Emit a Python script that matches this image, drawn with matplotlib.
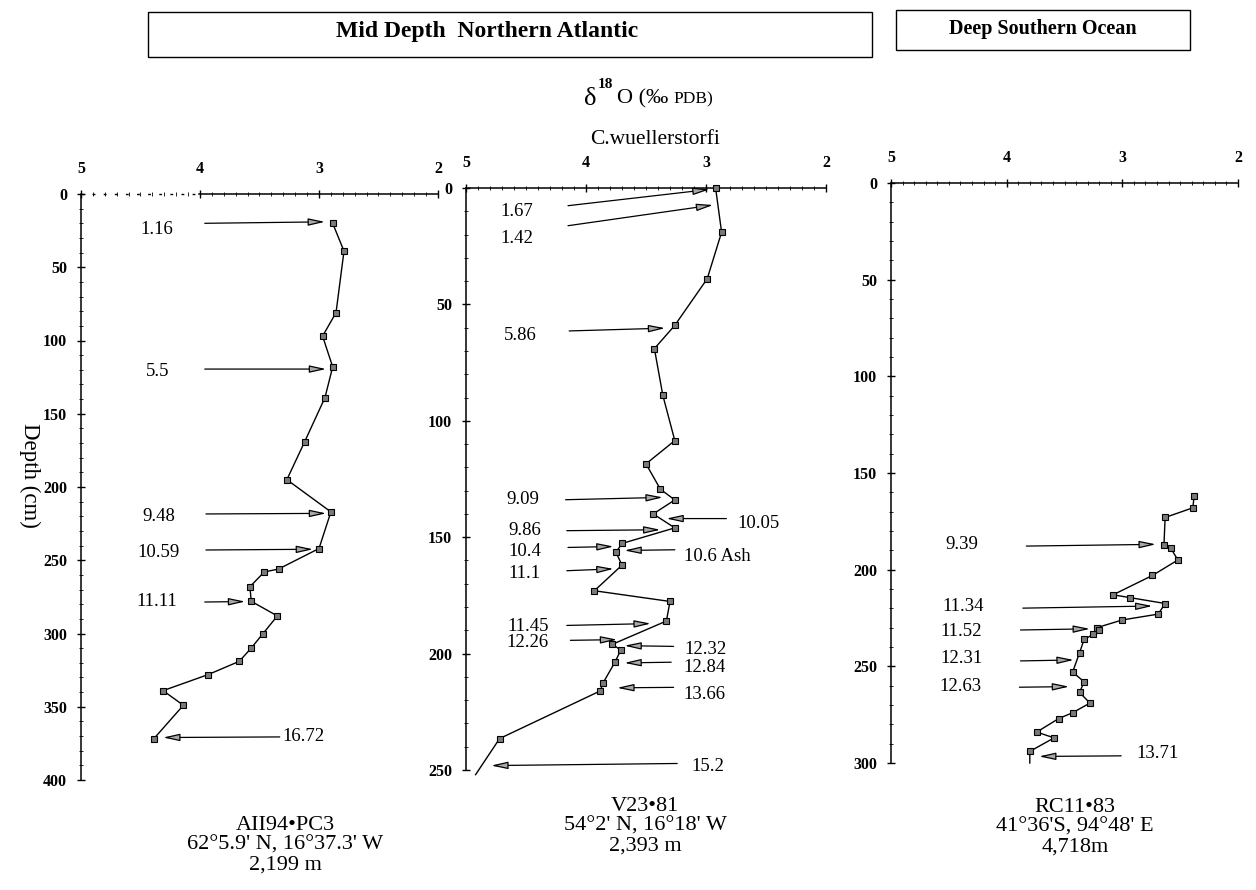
import matplotlib
matplotlib.use("Agg")
import matplotlib.pyplot as plt
from matplotlib.patches import Rectangle

plt.rcParams['font.family'] = ['Liberation Serif', 'DejaVu Serif']

# ---- data: d18O (per mil PDB) vs depth (cm) ----
# AII94-PC3
core1_d18o = [2.885, 2.79, 2.857, 2.97, 2.885, 2.95, 3.12, 3.27, 2.90, 3.00, 3.34,
              3.46, 3.58, 3.57, 3.35, 3.47, 3.57, 3.67, 3.93, 4.31, 4.14, 4.39]
core1_depth = [20, 39, 81, 97, 118, 139, 169, 195, 217, 242, 256,
               258, 268, 278, 288, 300, 310, 319, 328, 339, 349, 372]

# V23-81 (last entry: line runs past the axis bottom)
core2_d18o = [2.92, 2.87, 2.99, 3.26, 3.43, 3.36, 3.26, 3.50, 3.38, 3.26, 3.44, 3.26,
              3.70, 3.75, 3.70, 3.93, 3.30, 3.33, 3.78, 3.71, 3.76, 3.86, 3.88, 4.72, 4.92]
core2_depth = [0, 19, 39, 59, 69, 89, 108.5, 118.5, 129.4, 134, 140, 146,
               152.7, 156.5, 162, 173, 177.6, 186, 196, 198.5, 203.8, 212.8, 216, 236.5, 252]

# RC11-83 (last entry: line end without marker)
core3_d18o = [2.38, 2.39, 2.63, 2.64, 2.58, 2.52, 2.74, 3.08, 2.93, 2.63, 2.69, 3.00, 3.22,
              3.20, 3.25, 3.33, 3.37, 3.43, 3.33, 3.37, 3.28, 3.43, 3.55, 3.74, 3.59, 3.80, 3.80]
core3_depth = [162, 168, 173, 187, 189, 195, 203, 213, 214.5, 217.5, 223, 226, 230,
               231, 233.5, 236, 243, 253, 258, 263.5, 269, 274, 277, 284, 287, 294, 300]

# age labels (ka) with arrows: text, text x, text y, tail x, tail y, head x, head y
core1_notes = [
    ("1.16", 4.36, 24, 3.96, 20, 2.95, 19),
    ("5.5", 4.36, 121, 3.96, 119.5, 2.94, 119.5),
    ("9.48", 4.35, 220, 3.95, 218.4, 2.94, 218),
    ("10.59", 4.35, 245, 3.95, 243, 3.05, 242.5),
    ("11.11", 4.36, 278, 3.96, 278.5, 3.62, 278.2),
    ("16.72", 3.13, 370, 3.33, 370.6, 4.31, 371),
]
core2_notes = [
    ("1.67", 4.58, 10.2, 4.15, 7.6, 2.97, 0.6),
    ("1.42", 4.58, 21.6, 4.15, 16.2, 2.94, 7.3),
    ("5.86", 4.55, 63.4, 4.14, 61.4, 3.34, 60.2),
    ("9.09", 4.53, 133.9, 4.17, 133.9, 3.36, 132.9),
    ("9.86", 4.51, 147.2, 4.16, 147.2, 3.38, 146.8),
    ("10.4", 4.51, 156, 4.15, 154.4, 3.77, 154),
    ("11.1", 4.51, 165.4, 4.16, 164.4, 3.77, 163.6),
    ("11.45", 4.48, 188.3, 4.16, 187.9, 3.46, 187.1),
    ("12.26", 4.49, 195.4, 4.13, 194.3, 3.74, 194),
]
core2_notes_right = [
    ("10.05", 2.74, 144.2, 2.83, 142, 3.33, 142),
    ("10.6 Ash", 3.18, 158.4, 3.26, 155.4, 3.68, 155.7),
    ("12.32", 3.18, 198.3, 3.27, 196.9, 3.68, 196.6),
    ("12.84", 3.19, 206, 3.29, 203.7, 3.68, 204),
    ("13.66", 3.19, 217.6, 3.27, 214.5, 3.74, 214.7),
    ("15.2", 3.12, 248.5, 3.24, 247.2, 4.79, 248.1),
]
core3_notes = [
    ("9.39", 4.39, 187.2, 3.83, 187.8, 2.71, 186.9),
    ("11.34", 4.38, 219.1, 3.86, 219.9, 2.74, 218.8),
    ("11.52", 4.39, 232, 3.88, 231.2, 3.28, 230.6),
    ("12.31", 4.39, 245.8, 3.88, 247.2, 3.42, 246.7),
    ("12.63", 4.40, 260.5, 3.89, 260.8, 3.46, 260.5),
]
core3_notes_right = [
    ("13.71", 2.88, 294.9, 3.01, 296.3, 3.72, 296.6),
]

core_names = ["AII94\u2022PC3\n62\u00b05.9' N, 16\u00b037.3' W\n2,199 m",
              "V23\u202281\n54\u00b02' N, 16\u00b018' W\n2,393 m",
              "RC11\u202283\n41\u00b036'S, 94\u00b048' E\n4,718m"]
x_ticks = [5, 4, 3, 2]

W, H = 1256, 890
fig = plt.figure(figsize=(W / 100, H / 100), dpi=100)


def px_axes(x0, y0, x1, y1):
    return fig.add_axes([x0 / W, 1 - y1 / H, (x1 - x0) / W, (y1 - y0) / H])


def style_axis(ax, ymax):
    ax.set_xlim(5, 2)
    ax.set_ylim(ymax, 0)
    ax.spines['right'].set_visible(False)
    ax.spines['bottom'].set_visible(False)
    ax.xaxis.tick_top()
    ax.set_xticks(x_ticks)
    ax.set_xticks([5 - 0.1 * i for i in range(31)], minor=True)
    ax.set_yticks(range(0, ymax + 1, 50))
    ax.set_yticks(range(0, ymax + 1, 10), minor=True)
    ax.tick_params(which='major', direction='inout', length=6, width=1, labelsize=11.5, pad=7)
    ax.tick_params(which='minor', direction='inout', length=3, width=0.6)
    ax.tick_params(axis='x', pad=9)
    for lab in ax.get_xticklabels() + ax.get_yticklabels():
        lab.set_fontweight('bold')
    for s in ax.spines.values():
        s.set_linewidth(1.1)
    ax.patch.set_alpha(0)


def draw_core(ax, x, y, n_marked):
    ax.plot(x, y, color='black', lw=1, clip_on=False, zorder=3)
    ax.plot(x[:n_marked], y[:n_marked], ls='none', marker='s', ms=5,
            mfc='#7a7a7a', mec='black', mew=0.8, clip_on=False, zorder=4)


def draw_notes(ax, notes, ha):
    for txt, tx, ty, ax0, ay0, ax1, ay1 in notes:
        ax.annotate('', xy=(ax1, ay1), xytext=(ax0, ay0),
                    arrowprops=dict(arrowstyle='-|>,head_length=1.0,head_width=0.22',
                                    fc='#a8a8a8', ec='black', lw=0.9,
                                    shrinkA=0, shrinkB=0), annotation_clip=False)
        ax.text(tx, ty, txt, ha=ha, va='center', fontsize=13.5)


ax1 = px_axes(81, 194, 438, 780)
ax2 = px_axes(466, 188, 826, 770)
ax3 = px_axes(891, 183, 1238, 763)

style_axis(ax1, 400)
style_axis(ax2, 250)
style_axis(ax3, 300)

# first panel: dotted start of the top axis line
ax1.spines['top'].set_visible(False)
ax1.plot([0, 0.33], [1, 1], transform=ax1.transAxes, color='black', lw=1,
         ls=(0, (2, 6)), clip_on=False)
ax1.plot([0.33, 1], [1, 1], transform=ax1.transAxes, color='black', lw=1.1, clip_on=False)

draw_core(ax1, core1_d18o, core1_depth, len(core1_d18o))
draw_core(ax2, core2_d18o, core2_depth, len(core2_d18o) - 1)
draw_core(ax3, core3_d18o, core3_depth, len(core3_d18o) - 1)

draw_notes(ax1, core1_notes, 'center')
draw_notes(ax2, core2_notes, 'center')
draw_notes(ax2, core2_notes_right, 'left')
draw_notes(ax3, core3_notes, 'center')
draw_notes(ax3, core3_notes_right, 'left')

# headers
fig.patches.append(Rectangle((148 / W, 1 - 57 / H), (872 - 148) / W, 45 / H,
                             transform=fig.transFigure, fill=False, ec='black', lw=1))
fig.patches.append(Rectangle((896 / W, 1 - 50 / H), (1190 - 896) / W, 40 / H,
                             transform=fig.transFigure, fill=False, ec='black', lw=1))
fig.text(487 / W, 1 - 32 / H, "Mid Depth  Northern Atlantic", ha='center', va='center',
         fontsize=17, fontweight='bold')
fig.text(1043 / W, 1 - 29 / H, "Deep Southern Ocean", ha='center', va='center',
         fontsize=14.5, fontweight='bold')

# delta-18-O axis title, built from pieces
fig.text(584 / W, 1 - 99 / H, "\u03b4", ha='left', va='center', fontsize=19)
fig.text(598 / W, 1 - 84 / H, "18", ha='left', va='center', fontsize=11, fontweight='bold')
fig.text(617 / W, 1 - 99 / H, "O (\u2030", ha='left', va='center', fontsize=16)
fig.text(673 / W, 1 - 99 / H, "PDB)", ha='left', va='center', fontsize=12.5)
fig.text(655 / W, 1 - 140 / H, "C.wuellerstorfi", ha='center', va='center', fontsize=15.5)
fig.text(30 / W, 1 - 475 / H, "Depth (cm)", ha='center', va='center', rotation=-90,
         fontsize=16.5)

for cx, cy, name in zip([285, 645, 1075], [845, 826, 827], core_names):
    fig.text(cx / W, 1 - cy / H, name, ha='center', va='center', fontsize=16,
             linespacing=1.05)

fig.savefig("out.png", dpi=100)
